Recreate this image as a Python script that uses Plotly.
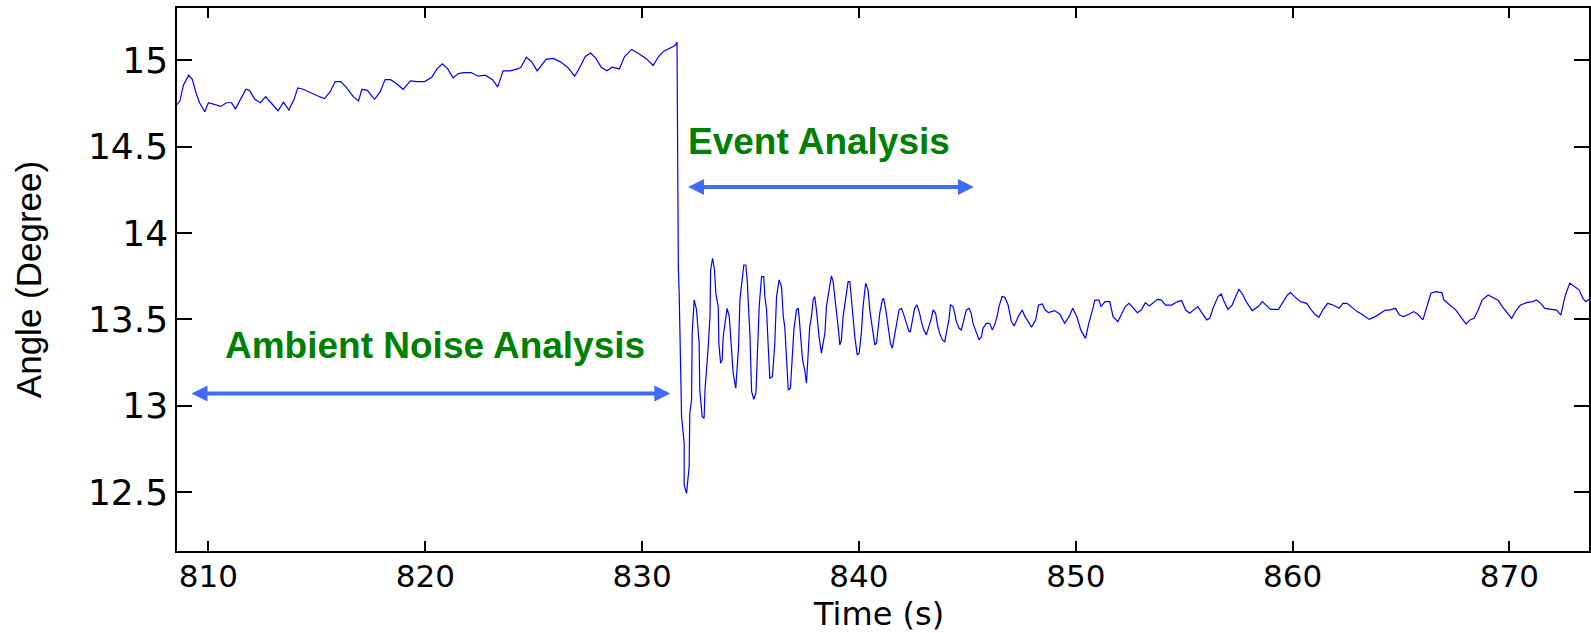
import plotly.graph_objects as go

# ---- data ----
# pre-event (ambient) segment
t_pre = [808.55, 808.68, 808.85, 809.09, 809.26, 809.42, 809.59, 809.83, 810.00, 810.25,
         810.58, 810.82, 811.07, 811.24, 811.48, 811.73, 811.89, 812.14, 812.39, 812.64,
         812.88, 813.21, 813.46, 813.71, 813.95, 814.12, 814.37, 814.70, 815.02, 815.35,
         815.60, 815.85, 816.10, 816.34, 816.67, 816.92, 817.08, 817.33, 817.66, 817.91,
         818.15, 818.40, 818.65, 818.98, 819.31, 819.64, 819.97, 820.30, 820.54, 820.79,
         821.04, 821.28, 821.53, 821.78, 822.11, 822.44, 822.77, 823.10, 823.34, 823.59,
         823.92, 824.25, 824.41, 824.66, 824.91, 825.16, 825.40, 825.57, 825.90, 826.23,
         826.56, 826.89, 827.13, 827.38, 827.63, 827.87, 828.12, 828.37, 828.62, 828.95,
         829.19, 829.52, 829.85, 830.18, 830.51, 830.76, 831.00, 831.25, 831.50, 831.61]
a_pre = [14.744, 14.765, 14.858, 14.915, 14.889, 14.816, 14.755, 14.703, 14.755, 14.744,
         14.734, 14.755, 14.755, 14.718, 14.775, 14.833, 14.827, 14.775, 14.755, 14.790,
         14.755, 14.709, 14.759, 14.713, 14.775, 14.841, 14.833, 14.812, 14.796, 14.779,
         14.816, 14.878, 14.878, 14.847, 14.792, 14.765, 14.833, 14.827, 14.775, 14.816,
         14.889, 14.889, 14.868, 14.833, 14.882, 14.878, 14.878, 14.903, 14.951, 14.981,
         14.951, 14.899, 14.924, 14.930, 14.930, 14.909, 14.915, 14.889, 14.847, 14.940,
         14.940, 14.951, 14.961, 15.019, 14.992, 14.940, 14.981, 15.006, 15.012, 14.992,
         14.961, 14.909, 14.961, 15.023, 15.043, 15.012, 14.961, 14.940, 14.961, 14.951,
         15.023, 15.064, 15.039, 15.012, 14.971, 15.023, 15.054, 15.068, 15.085, 15.105]

# event (oscillation) segment
t_evt = [831.64, 831.67, 831.71, 831.82, 831.94, 831.94, 832.05, 832.17, 832.20, 832.28,
         832.31, 832.40, 832.51, 832.63, 832.66, 832.77, 832.86, 832.90, 833.05, 833.13,
         833.16, 833.25, 833.34, 833.40, 833.51, 833.54, 833.62, 833.69, 833.74, 833.86,
         833.92, 834.02, 834.12, 834.20, 834.32, 834.45, 834.51, 834.59, 834.69, 834.78,
         834.85, 834.89, 834.97, 835.05, 835.15, 835.25, 835.31, 835.40, 835.51, 835.61,
         835.66, 835.74, 835.81, 835.89, 836.01, 836.12, 836.20, 836.32, 836.43, 836.51,
         836.58, 836.66, 836.74, 836.84, 836.90, 837.00, 837.12, 837.20, 837.24, 837.32,
         837.40, 837.50, 837.58, 837.66, 837.73, 837.81, 837.89, 837.96, 838.04, 838.16,
         838.27, 838.35, 838.43, 838.50, 838.63, 838.73, 838.81, 838.89, 838.96, 839.04,
         839.12, 839.19, 839.27, 839.39, 839.50, 839.58, 839.65, 839.73, 839.81, 839.92,
         840.01, 840.11, 840.19, 840.31, 840.42, 840.50, 840.62, 840.73, 840.81, 840.88,
         840.96, 841.08, 841.14, 841.24, 841.34, 841.45, 841.54, 841.65, 841.73, 841.85,
         841.96, 842.07, 842.19, 842.31, 842.37, 842.47, 842.57, 842.68, 842.80, 842.88,
         842.99, 843.11, 843.23, 843.34, 843.42, 843.54, 843.62, 843.72, 843.85, 843.96,
         844.03, 844.15, 844.22, 844.34, 844.42, 844.49, 844.62, 844.72, 844.80, 844.88,
         844.95, 845.08, 845.18, 845.26, 845.41, 845.54, 845.65, 845.72, 845.88, 846.03,
         846.15, 846.26, 846.37, 846.46]
a_evt = [14.190, 13.806, 13.651, 12.937, 12.782, 12.541, 12.492, 12.647, 12.956, 13.033,
         13.420, 13.613, 13.555, 13.362, 13.091, 12.937, 12.927, 13.091, 13.342, 13.516,
         13.786, 13.854, 13.786, 13.651, 13.574, 13.362, 13.246, 13.265, 13.400, 13.535,
         13.564, 13.516, 13.342, 13.188, 13.101, 13.342, 13.613, 13.690, 13.815, 13.815,
         13.728, 13.613, 13.420, 13.082, 13.037, 13.072, 13.284, 13.574, 13.748, 13.748,
         13.632, 13.555, 13.362, 13.159, 13.168, 13.362, 13.632, 13.729, 13.690, 13.516,
         13.458, 13.246, 13.091, 13.101, 13.207, 13.439, 13.555, 13.564, 13.516, 13.381,
         13.265, 13.207, 13.130, 13.304, 13.458, 13.516, 13.613, 13.632, 13.555, 13.400,
         13.304, 13.362, 13.420, 13.574, 13.680, 13.752, 13.719, 13.632, 13.574, 13.458,
         13.352, 13.381, 13.516, 13.613, 13.719, 13.719, 13.613, 13.497, 13.400, 13.294,
         13.304, 13.420, 13.574, 13.709, 13.671, 13.555, 13.458, 13.352, 13.362, 13.458,
         13.535, 13.613, 13.622, 13.555, 13.458, 13.362, 13.333, 13.400, 13.468, 13.555,
         13.564, 13.526, 13.477, 13.429, 13.429, 13.497, 13.564, 13.584, 13.535, 13.487,
         13.439, 13.410, 13.458, 13.506, 13.555, 13.535, 13.468, 13.420, 13.381, 13.371,
         13.420, 13.497, 13.584, 13.574, 13.535, 13.487, 13.448, 13.439, 13.477, 13.516,
         13.555, 13.564, 13.535, 13.477, 13.429, 13.381, 13.400, 13.448, 13.477, 13.477,
         13.439, 13.468, 13.516, 13.574]

# post-event segment
t_post = [846.60, 846.73, 846.88, 847.03, 847.16, 847.35, 847.53, 847.66, 847.81, 847.96,
          848.15, 848.28, 848.46, 848.59, 848.74, 849.02, 849.26, 849.49, 849.71, 849.86,
          850.05, 850.23, 850.45, 850.60, 850.79, 850.88, 851.07, 851.16, 851.35, 851.57,
          851.72, 851.94, 852.09, 852.28, 852.46, 852.84, 853.02, 853.21, 853.39, 853.77,
          853.95, 854.14, 854.42, 854.70, 854.88, 855.07, 855.25, 855.63, 855.81, 856.04,
          856.18, 856.33, 856.56, 856.71, 856.84, 857.02, 857.21, 857.39, 857.52, 857.67,
          857.86, 858.14, 858.42, 858.60, 858.79, 858.98, 859.35, 859.53, 859.76, 859.91,
          860.09, 860.37, 860.65, 860.84, 861.02, 861.21, 861.39, 861.62, 861.86, 862.14,
          862.32, 862.51, 862.70, 862.98, 863.25, 863.53, 863.81, 864.09, 864.28, 864.46,
          864.74, 864.93, 865.12, 865.39, 865.58, 865.77, 866.01, 866.14, 866.38, 866.60,
          866.88, 866.98, 867.16, 867.35, 867.53, 867.81, 868.00, 868.18, 868.37, 868.56,
          868.74, 869.02, 869.21, 869.49, 869.67, 869.95, 870.10, 870.32, 870.51, 870.79,
          871.07, 871.25, 871.44, 871.63, 871.91, 872.18, 872.37, 872.56, 872.78, 873.02,
          873.21, 873.39, 873.52, 873.67]
a_post = [13.632, 13.628, 13.583, 13.487, 13.462, 13.516, 13.554, 13.516, 13.487, 13.454,
          13.497, 13.583, 13.589, 13.554, 13.539, 13.551, 13.531, 13.477, 13.520, 13.564,
          13.516, 13.439, 13.390, 13.477, 13.564, 13.612, 13.612, 13.574, 13.603, 13.603,
          13.516, 13.487, 13.525, 13.574, 13.593, 13.539, 13.554, 13.597, 13.578, 13.616,
          13.612, 13.583, 13.583, 13.603, 13.609, 13.554, 13.535, 13.574, 13.539, 13.497,
          13.506, 13.564, 13.632, 13.647, 13.603, 13.558, 13.583, 13.632, 13.674, 13.651,
          13.603, 13.551, 13.574, 13.603, 13.583, 13.558, 13.558, 13.593, 13.641, 13.655,
          13.632, 13.603, 13.593, 13.558, 13.531, 13.512, 13.554, 13.593, 13.583, 13.564,
          13.593, 13.593, 13.574, 13.545, 13.525, 13.500, 13.516, 13.539, 13.554, 13.554,
          13.564, 13.525, 13.516, 13.531, 13.545, 13.531, 13.497, 13.551, 13.651, 13.661,
          13.655, 13.612, 13.593, 13.574, 13.554, 13.506, 13.473, 13.497, 13.506, 13.554,
          13.612, 13.641, 13.628, 13.609, 13.574, 13.525, 13.506, 13.554, 13.583, 13.597,
          13.603, 13.612, 13.593, 13.564, 13.558, 13.554, 13.525, 13.632, 13.709, 13.686,
          13.671, 13.622, 13.603, 13.616]

x_ticks = [810, 820, 830, 840, 850, 860, 870]
y_ticks = [12.5, 13, 13.5, 14, 14.5, 15]
y_tick_text = ["12.5", "13", "13.5", "14", "14.5", "15"]

x_range = [808.55, 873.67]
y_range = [12.158, 15.304]

# annotation spans (data units)
ambient_span = [809.15, 831.3]
ambient_y = 13.07
event_span = [832.05, 845.3]
event_y = 14.267

time_s = t_pre + t_evt + t_post
angle_deg = a_pre + a_evt + a_post

fig = go.Figure()
fig.add_trace(go.Scatter(x=time_s, y=angle_deg, mode="lines",
                         line=dict(color="#0000ff", width=1.2), showlegend=False))

arrow_col = "#3f6cf5"
green = "#008000"
for span, yv in [(ambient_span, ambient_y), (event_span, event_y)]:
    fig.add_annotation(x=span[1], y=yv, ax=span[0], ay=yv, xref="x", yref="y",
                       axref="x", ayref="y", text="", showarrow=True,
                       arrowhead=2, startarrowhead=2, arrowside="end+start",
                       arrowsize=0.8, startarrowsize=0.8, arrowwidth=4,
                       arrowcolor=arrow_col, standoff=0, startstandoff=0)

fig.add_annotation(x=820.45, y=13.35, xref="x", yref="y", text="<b>Ambient Noise Analysis</b>",
                   showarrow=False, font=dict(family="Liberation Sans, Arial", size=37, color=green))
fig.add_annotation(x=838.15, y=14.53, xref="x", yref="y", text="<b>Event Analysis</b>",
                   showarrow=False, font=dict(family="Liberation Sans, Arial", size=37, color=green))

# x-axis title placed at the bottom edge of the figure
fig.add_annotation(x=0.4965, y=-82 / 543, xref="paper", yref="paper", xanchor="center",
                   yanchor="bottom", yshift=-1, text="Time (s)", showarrow=False, borderpad=0,
                   font=dict(family="DejaVu Sans, Arial", size=32, color="black"))

fig.update_xaxes(range=x_range, tickvals=x_ticks, ticks="inside", ticklen=10, tickwidth=1.5,
                 tickcolor="black", showline=True, linecolor="black", linewidth=1.5,
                 mirror="ticks", showgrid=False, zeroline=False, ticklabelstandoff=-3,
                 tickfont=dict(family="DejaVu Sans, Arial", size=31, color="black"))
fig.update_yaxes(range=y_range, tickvals=y_ticks, ticktext=y_tick_text, ticks="inside", ticklen=15,
                 tickwidth=1.5, tickcolor="black", showline=True, linecolor="black", linewidth=1.5,
                 mirror="ticks", showgrid=False, zeroline=False,
                 tickfont=dict(family="DejaVu Sans, Arial", size=36, color="black"),
                 title=dict(text="Angle (Degree)",
                            font=dict(family="Liberation Sans Narrow, Arial Narrow, Liberation Sans", size=35,
                                      color="black"),
                            standoff=36))
fig.update_layout(width=1591, height=633, paper_bgcolor="white", plot_bgcolor="white",
                  margin=dict(l=177, r=2, t=8, b=82, autoexpand=False))
fig.write_html("out.html")
